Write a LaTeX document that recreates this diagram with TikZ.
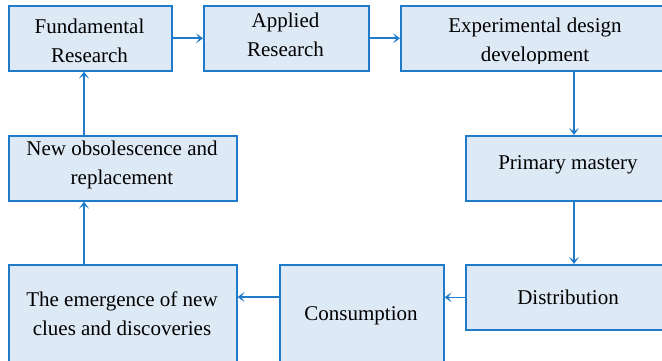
\documentclass[tikz,border=0pt]{standalone}
\usepackage{fontspec}
\setmainfont{Liberation Serif}
\usetikzlibrary{arrows.meta}
\definecolor{bblue}{HTML}{1F7BC9}
\definecolor{bfill}{HTML}{DEE9F6}
\tikzset{
  box/.style={draw=bblue, fill=bfill, line width=1.6pt, anchor=north west, inner sep=0pt},
  lbl/.style={align=center, inner sep=0pt, font=\fontsize{21}{29}\selectfont},
  arr/.style={draw=bblue, line width=1.6pt, -{Stealth[length=7pt,width=10pt,inset=3.5pt]}}
}
\begin{document}
\begin{tikzpicture}[x=1pt,y=-1pt]
\useasboundingbox (0,0) rectangle (662,361);
\clip (0,0) rectangle (662,361);
% boxes
\node[box, minimum width=163pt, minimum height=65pt] (fr) at (8,5) {};
\node[box, minimum width=165pt, minimum height=65pt] (ar) at (203,5) {};
\node[box, minimum width=270pt, minimum height=65pt] (ed) at (400,5) {};
\node[box, minimum width=206pt, minimum height=65pt] (pm) at (465,135) {};
\node[box, minimum width=206pt, minimum height=65pt] (di) at (465,264) {};
\node[box, minimum width=164pt, minimum height=110pt] (co) at (279,264) {};
\node[box, minimum width=228pt, minimum height=110pt] (em) at (8,264) {};
\node[box, minimum width=228pt, minimum height=65pt] (no) at (8,135) {};
% helper coordinates
\coordinate (vx) at (574,0);
\coordinate (lx) at (84,0);
\coordinate (hy) at (0,297);
% labels
\begin{scope}
\clip (0,5) rectangle (662,63.5);
\node[lbl] (frt) at (89.5,41) {Fundamental\\Research};
\node[lbl] (art) at (285.5,35) {Applied\\Research};
\node[lbl] (edt) at (535,42) {Experimental design\\development};
\end{scope}
\node[lbl] (pmt) at (568,165) {Primary mastery};
\node[lbl] (dit) at (568,297) {Distribution};
\node[lbl] (cot) at (361,316) {Consumption};
\node[lbl] (emt) at (122,314) {The emergence of new\\clues and discoveries};
\node[lbl] (not) at (122,165) {New obsolescence and\\replacement};
% arrows
\draw[arr] (fr.east) -- (ar.west);
\draw[arr] (ar.east) -- (ed.west);
\draw[arr] (ed.south -| vx) -- (pm.north -| vx);
\draw[arr] (pm.south -| vx) -- (di.north -| vx);
\draw[arr] (di.west) -- (co.east |- di.west);
\draw[arr] (co.west |- hy) -- (em.east |- hy);
\draw[arr] (em.north -| lx) -- (no.south -| lx);
\draw[arr] (no.north -| lx) -- (fr.south -| lx);
\end{tikzpicture}
\end{document}
